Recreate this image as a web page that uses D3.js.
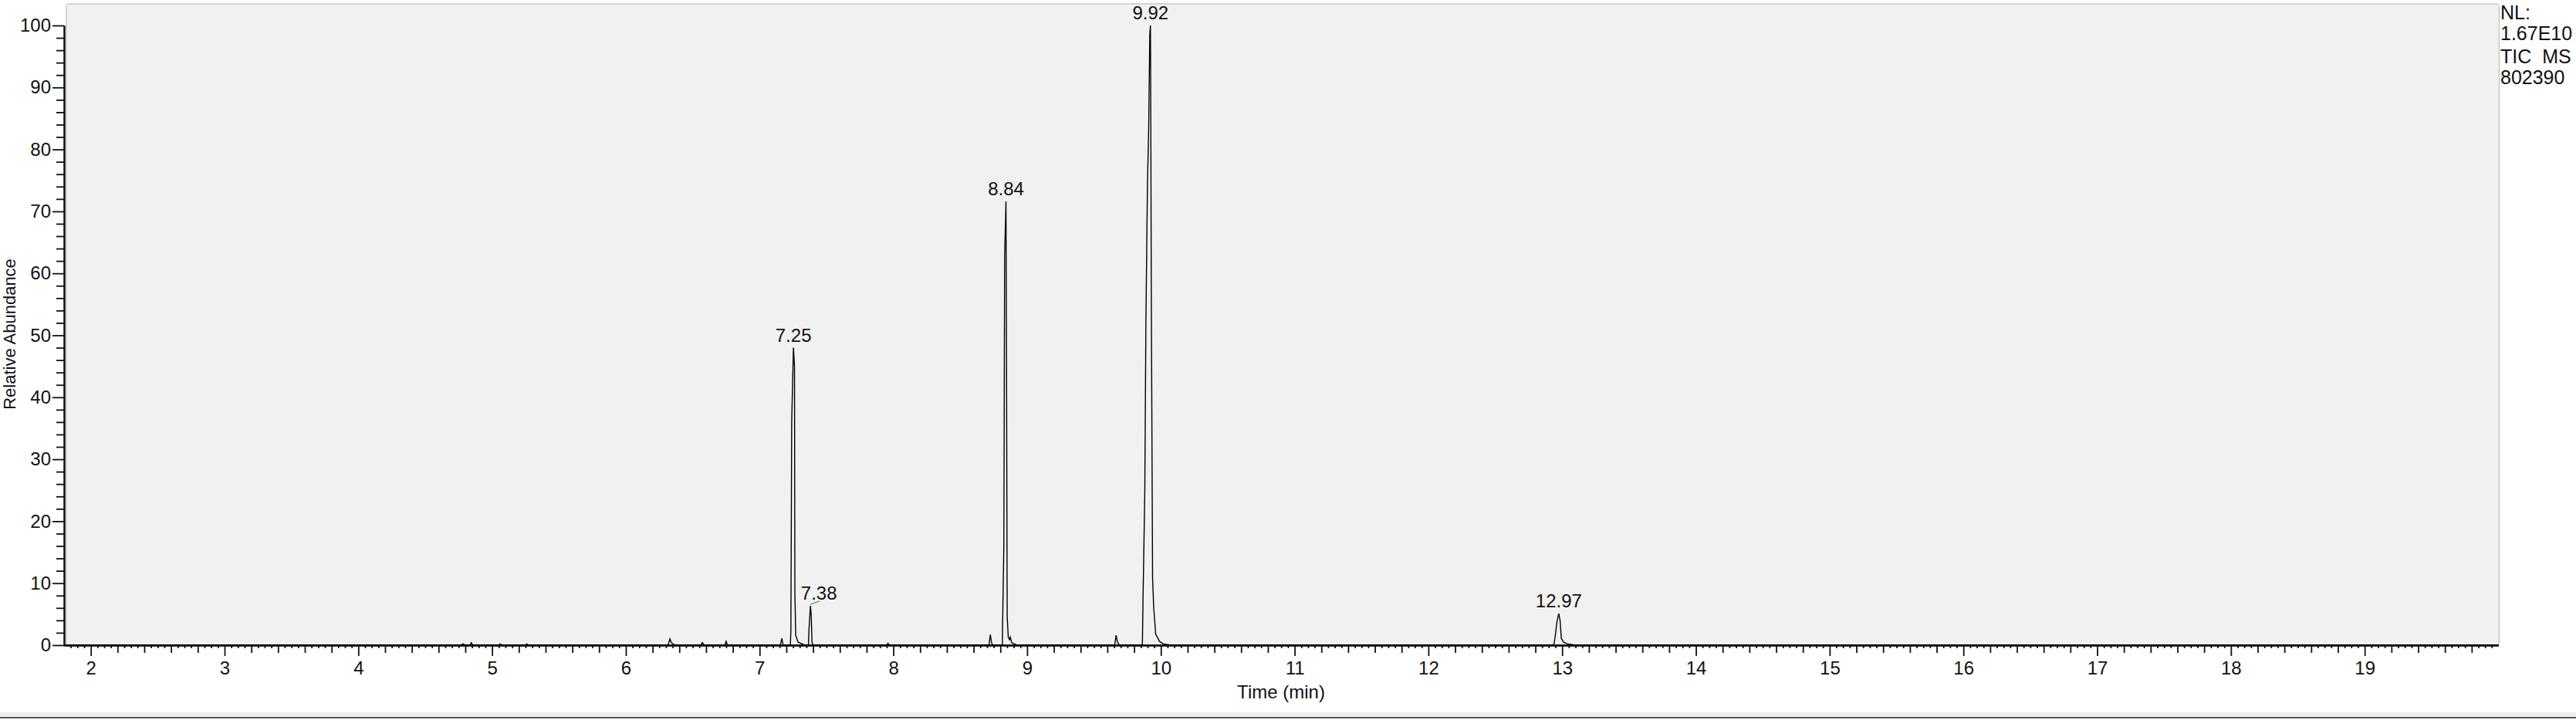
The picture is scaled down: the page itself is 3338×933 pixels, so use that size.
<!DOCTYPE html>
<html>
<head>
<meta charset="utf-8">
<script src="https://cdn.jsdelivr.net/npm/d3@7"></script>
<style>
  body { margin: 0; background: #fff; }
  text { font-family: "Liberation Sans", Arial, sans-serif; fill: #111; }
</style>
</head>
<body>
<svg id="chart"></svg>
<script>
// taille de la page
const width = 3338;
const height = 933;

// chromatogramme TIC (temps en min, abondance relative en %)
const traceTime = [
  1.80, 4.77, 4.78, 4.80, 4.835, 4.845, 4.855, 5.05, 5.06, 5.075, 5.25, 5.26, 5.27,
  6.315, 6.33, 6.34, 6.36, 6.37, 6.56, 6.572, 6.585, 6.74, 6.75, 6.76,
  7.155, 7.166, 7.176, 7.230, 7.234, 7.240, 7.253, 7.261, 7.264, 7.270, 7.287, 7.336,
  7.365, 7.368, 7.380, 7.386, 7.392, 7.40,
  7.95, 7.96, 7.97,
  8.715, 8.725, 8.735, 8.745, 8.815, 8.817, 8.826, 8.832, 8.842, 8.846, 8.851, 8.859, 8.868, 8.874, 8.885, 8.922,
  9.655, 9.665, 9.675, 9.69,
  9.858, 9.862, 9.867, 9.880, 9.888, 9.900, 9.909, 9.917, 9.922, 9.925, 9.928, 9.938, 9.946, 9.961, 9.990, 10.019, 10.077,
  12.930, 12.939, 12.948, 12.962, 12.975, 12.985, 12.994, 13.010, 13.039, 13.096, 20.0
];
const traceAbund = [
  0, 0, 0.2, 0, 0, 0.4, 0, 0, 0.2, 0, 0, 0.2, 0,
  0, 1.0, 0.4, 0.1, 0, 0, 0.4, 0, 0, 0.6, 0,
  0, 1.1, 0, 0, 2.4, 36, 48, 45, 8.4, 1.6, 0.5, 0,
  0, 2.0, 6.35, 4.9, 0.4, 0,
  0, 0.3, 0,
  0, 1.7, 0.3, 0, 0, 3.5, 16, 63, 71.6, 46.4, 4.7, 1.3, 0.9, 1.3, 0.4, 0,
  0, 1.6, 0.5, 0,
  0, 0.3, 7.9, 24.8, 51.9, 74.7, 83.3, 98.5, 100, 83.6, 59.5, 10.9, 6.2, 1.8, 0.6, 0.2, 0,
  0, 0.2, 1.4, 3.9, 5.1, 3.9, 1.1, 0.5, 0.2, 0, 0
];

// étiquettes des pics
const peakTimes = [7.25, 7.38, 8.84, 9.92, 12.97];
const peakLabels = ["7.25", "7.38", "8.84", "9.92", "12.97"];

// graduations
const xTickValues = [2, 3, 4, 5, 6, 7, 8, 9, 10, 11, 12, 13, 14, 15, 16, 17, 18, 19];
const yTickValues = [0, 10, 20, 30, 40, 50, 60, 70, 80, 90, 100];

// texte d'en-tête à droite
const headerLines = ["NL:", "1.67E10", "TIC  MS", "802390"];

const x = d3.scaleLinear().domain([1.8, 20.0]).range([83, 3237.5]);
const y = d3.scaleLinear().domain([0, 100]).range([836, 33]);

const svg = d3.select("#chart")
    .attr("width", width)
    .attr("height", height);

// fond du graphe
svg.append("rect")
    .attr("x", 86).attr("y", 5)
    .attr("width", 3238.5 - 86).attr("height", 836 - 5)
    .attr("rx", 4)
    .attr("fill", "#f1f1f1")
    .attr("stroke", "#c8c8c8")
    .attr("stroke-width", 1.5);

// barre en bas de la fenêtre
svg.append("rect")
    .attr("x", 0).attr("y", 923)
    .attr("width", width).attr("height", 6)
    .attr("fill", "#eeeeee");
svg.append("line")
    .attr("x1", 0).attr("x2", width)
    .attr("y1", 930).attr("y2", 930)
    .attr("stroke", "#555").attr("stroke-width", 2);

// petites graduations de l'axe x
const subIdx = d3.range(37, 400).filter(i => i % 20 !== 0);
const medTicks = subIdx.filter(i => i % 4 === 0).map(i => i * 0.05);
const minTicks = subIdx.filter(i => i % 4 !== 0).map(i => i * 0.05);

function styleAxis(g) {
    g.select(".domain").attr("stroke", "#111").attr("stroke-width", 2);
    g.selectAll(".tick line").attr("stroke", "#111").attr("stroke-width", 1.8);
    g.selectAll(".tick text")
        .attr("font-family", "Liberation Sans, Arial, sans-serif")
        .attr("font-size", 24)
        .attr("fill", "#111");
}

svg.append("g")
    .attr("transform", "translate(0,836)")
    .call(d3.axisBottom(x).tickValues(minTicks).tickSize(4).tickSizeOuter(0).tickFormat(""))
    .call(styleAxis);
svg.append("g")
    .attr("transform", "translate(0,836)")
    .call(d3.axisBottom(x).tickValues(medTicks).tickSize(10).tickSizeOuter(0).tickFormat(""))
    .call(styleAxis);
svg.append("g")
    .attr("transform", "translate(0,836)")
    .call(d3.axisBottom(x).tickValues(xTickValues).tickSize(14).tickPadding(7).tickSizeOuter(0).tickFormat(d3.format("d")))
    .call(styleAxis);

// axe y
const yMinor = d3.range(0, 101, 2).filter(v => v % 10 !== 0);
svg.append("g")
    .attr("transform", "translate(83,0)")
    .call(d3.axisLeft(y).tickValues(yMinor).tickSize(10).tickSizeOuter(0).tickFormat(""))
    .call(styleAxis);
svg.append("g")
    .attr("transform", "translate(83,0)")
    .call(d3.axisLeft(y).tickValues(yTickValues).tickSize(15).tickPadding(2).tickSizeOuter(0).tickFormat(d3.format("d")))
    .call(styleAxis);

// tracé
const pts = traceTime.map((t, i) => [t, traceAbund[i]]);
const line = d3.line().x(d => x(d[0])).y(d => y(d[1]));
svg.append("path")
    .datum(pts)
    .attr("d", line)
    .attr("fill", "none")
    .attr("stroke", "#000")
    .attr("stroke-width", 1.4)
    .attr("stroke-linejoin", "miter");

// étiquettes : placées au sommet local du tracé
const labels = peakTimes.map((t, i) => {
    const near = pts.filter(p => Math.abs(p[0] - t) < 0.02);
    const top = near.reduce((a, b) => (b[1] > a[1] ? b : a));
    return { text: peakLabels[i], t: top[0], v: top[1] };
});

labels.forEach(d => {
    const px = x(d.t), py = y(d.v);
    // 7.38 est décalée à droite avec un petit trait vert
    const shifted = d.text === "7.38";
    if (shifted) {
        svg.append("line")
            .attr("x1", px).attr("y1", py - 2)
            .attr("x2", px + 12).attr("y2", py - 6)
            .attr("stroke", "#5cc05c").attr("stroke-width", 1.5);
    }
    svg.append("text")
        .attr("x", shifted ? px + 11 : px)
        .attr("y", py - 8)
        .attr("text-anchor", "middle")
        .attr("font-size", 24)
        .text(d.text);
});

// titres des axes
svg.append("text")
    .attr("x", 1660).attr("y", 905)
    .attr("text-anchor", "middle")
    .attr("font-size", 24)
    .text("Time (min)");

svg.append("text")
    .attr("transform", "translate(20,433) rotate(-90)")
    .attr("text-anchor", "middle")
    .attr("font-size", 22)
    .text("Relative Abundance");

// en-tête
const headerY = [25, 52, 82, 109];
headerLines.forEach((s, i) => {
    svg.append("text")
        .attr("x", 3240).attr("y", headerY[i])
        .attr("font-size", 25)
        .style("white-space", "pre")
        .text(s);
});
</script>
</body>
</html>
